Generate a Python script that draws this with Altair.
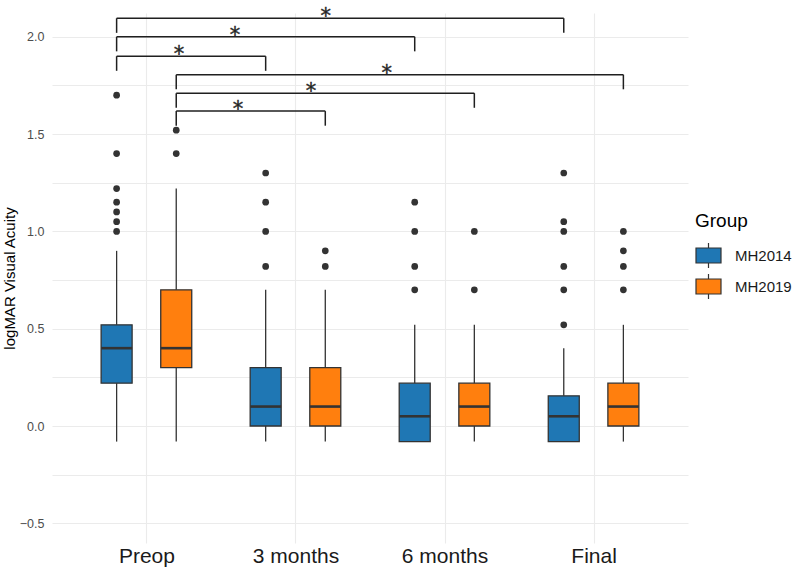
import json

import altair as alt
import pandas as pd

# ---- data -------------------------------------------------------------
categories = ["Preop", "3 months", "6 months", "Final"]
groups = ["MH2014", "MH2019"]
colors = ["#1F77B4", "#FF7F0E"]

# box summaries per time point (logMAR)
q1 = {"MH2014": [0.22, 0.00, -0.08, -0.08], "MH2019": [0.30, 0.00, 0.00, 0.00]}
median = {"MH2014": [0.40, 0.10, 0.05, 0.05], "MH2019": [0.40, 0.10, 0.10, 0.10]}
q3 = {"MH2014": [0.52, 0.30, 0.22, 0.155], "MH2019": [0.70, 0.30, 0.22, 0.22]}
whisker_low = {"MH2014": [-0.08, -0.08, -0.08, -0.08], "MH2019": [-0.08, -0.08, -0.08, -0.08]}
whisker_high = {"MH2014": [0.90, 0.70, 0.52, 0.40], "MH2019": [1.22, 0.70, 0.52, 0.52]}

outliers = {
    "MH2014": [
        [1.0, 1.05, 1.1, 1.15, 1.22, 1.4, 1.7],
        [0.82, 1.0, 1.15, 1.3],
        [0.7, 0.82, 1.0, 1.15],
        [0.52, 0.7, 0.82, 1.0, 1.05, 1.3],
    ],
    "MH2019": [
        [1.4, 1.52],
        [0.82, 0.9],
        [0.7, 1.0],
        [0.7, 0.82, 0.9, 1.0],
    ],
}

# significance brackets: group, from, to, bracket height, star position
bracket_group = ["MH2014", "MH2014", "MH2014", "MH2019", "MH2019", "MH2019"]
bracket_from = ["Preop"] * 6
bracket_to = ["Final", "6 months", "3 months", "Final", "6 months", "3 months"]
bracket_level = [2.095, 2.0, 1.9, 1.805, 1.71, 1.618]
star_x = [2.203, 1.595, 1.218, 2.613, 2.104, 1.615]
star_label = ["*"] * 6

# ---- layout helpers ---------------------------------------------------
DODGE = 0.2
TIP = 0.075
FONT = "Liberation Sans"
INK = "#333333"


def pos(group, category):
    return categories.index(category) + 1 + (-DODGE if group == groups[0] else DODGE)


box_rows = []
out_rows = []
for g in groups:
    for i, c in enumerate(categories):
        box_rows.append(
            dict(group=g, category=c, pos=pos(g, c), q1=q1[g][i], median=median[g][i],
                 q3=q3[g][i], lo=whisker_low[g][i], hi=whisker_high[g][i])
        )
        for v in outliers[g][i]:
            out_rows.append(dict(group=g, category=c, pos=pos(g, c), value=v))
boxes = pd.DataFrame(box_rows)
points = pd.DataFrame(out_rows)

br = pd.DataFrame(
    dict(
        x1=[pos(g, a) for g, a in zip(bracket_group, bracket_from)],
        x2=[pos(g, b) for g, b in zip(bracket_group, bracket_to)],
        level=bracket_level,
        tip=[lv - TIP for lv in bracket_level],
        star_x=star_x,
        label=star_label,
    )
)

# ---- scales / axes ----------------------------------------------------
x_scale = alt.Scale(domain=[0.4, 4.6], nice=False, zero=False)
y_scale = alt.Scale(domain=[-0.601, 2.122], nice=False, zero=False)

x_axis = alt.Axis(
    values=[1, 2, 3, 4],
    labelExpr=json.dumps(categories) + "[datum.value - 1]",
    title=None, ticks=False, domain=False, labelFlush=False,
    labelFontSize=21, labelFont=FONT, labelColor="#1a1a1a", labelPadding=2,
    grid=True, gridColor="#EBEBEB", gridWidth=1.1,
)
y_axis = alt.Axis(
    values=[-0.5, -0.25, 0, 0.25, 0.5, 0.75, 1.0, 1.25, 1.5, 1.75, 2.0],
    labelExpr="datum.value % 0.5 === 0 ? format(datum.value, '.1f') : ''",
    title="logMAR Visual Acuity", titleFont=FONT, titleFontSize=15,
    titleFontWeight="normal", titleColor="#000000", titlePadding=2,
    ticks=False, domain=False, labelFlush=False,
    labelFontSize=12.5, labelFont=FONT, labelColor="#4D4D4D", labelPadding=8,
    grid=True, gridColor="#EBEBEB", gridWidth=1.0,
)


def xenc(field):
    return alt.X(f"{field}:Q", scale=x_scale, axis=x_axis)


def yenc(field):
    return alt.Y(f"{field}:Q", scale=y_scale, axis=y_axis)


legend_symbol = "M-1,-0.6H1V0.6H-1Z M0,-0.6V-1 M0,0.6V1"

# ---- layers -----------------------------------------------------------
box_layer = alt.Chart(boxes).mark_bar(size=31, stroke=INK, strokeWidth=1.3).encode(
    x=xenc("pos"),
    y=yenc("q1"),
    y2="q3:Q",
    fill=alt.Fill(
        "group:N",
        scale=alt.Scale(domain=groups, range=colors),
        legend=alt.Legend(
            title="Group", orient="none", legendX=643, legendY=199, padding=0,
            titleFont=FONT, titleFontSize=19, titleFontWeight="normal", titleColor="#000000",
            titlePadding=11, labelFont=FONT, labelFontSize=15, labelColor="#1a1a1a",
            labelOffset=13, symbolType=legend_symbol, symbolSize=625,
            symbolStrokeColor=INK, symbolStrokeWidth=1.2, symbolOpacity=1, rowPadding=0,
        ),
    ),
)

whisker_lo = alt.Chart(boxes).mark_rule(color=INK, strokeWidth=1.3).encode(
    x=xenc("pos"), y=yenc("lo"), y2="q1:Q"
)
whisker_hi = alt.Chart(boxes).mark_rule(color=INK, strokeWidth=1.3).encode(
    x=xenc("pos"), y=yenc("q3"), y2="hi:Q"
)
median_layer = alt.Chart(boxes).mark_tick(
    orient="horizontal", size=31, thickness=2.6, color=INK, opacity=1
).encode(x=xenc("pos"), y=yenc("median"))

outlier_layer = alt.Chart(points).mark_circle(size=45, color=INK, opacity=1).encode(
    x=xenc("pos"), y=yenc("value")
)

bracket_color = "#1f1f1f"
bar_top = alt.Chart(br).mark_rule(color=bracket_color, strokeWidth=1.5).encode(
    x=xenc("x1"), x2="x2:Q", y=yenc("level")
)
bar_left = alt.Chart(br).mark_rule(color=bracket_color, strokeWidth=1.5).encode(
    x=xenc("x1"), y=yenc("level"), y2="tip:Q"
)
bar_right = alt.Chart(br).mark_rule(color=bracket_color, strokeWidth=1.5).encode(
    x=xenc("x2"), y=yenc("level"), y2="tip:Q"
)
stars = alt.Chart(br).mark_text(
    font="DejaVu Sans", fontSize=21, fill="#262626", stroke="#262626", strokeWidth=0.4,
    baseline="alphabetic", dy=5,
).encode(x=xenc("star_x"), y=yenc("level"), text="label:N")

chart = (
    alt.layer(
        box_layer, whisker_lo, whisker_hi, median_layer, outlier_layer,
        bar_top, bar_left, bar_right, stars,
    )
    .properties(
        width=636, height=530,
        autosize=alt.AutoSizeParams(type="none"),
        padding={"left": 52, "top": 13, "right": 111, "bottom": 31},
        background="white",
    )
    .configure_view(stroke=None)
)

chart.save("out.html", embed_options={"renderer": "svg", "actions": False})
